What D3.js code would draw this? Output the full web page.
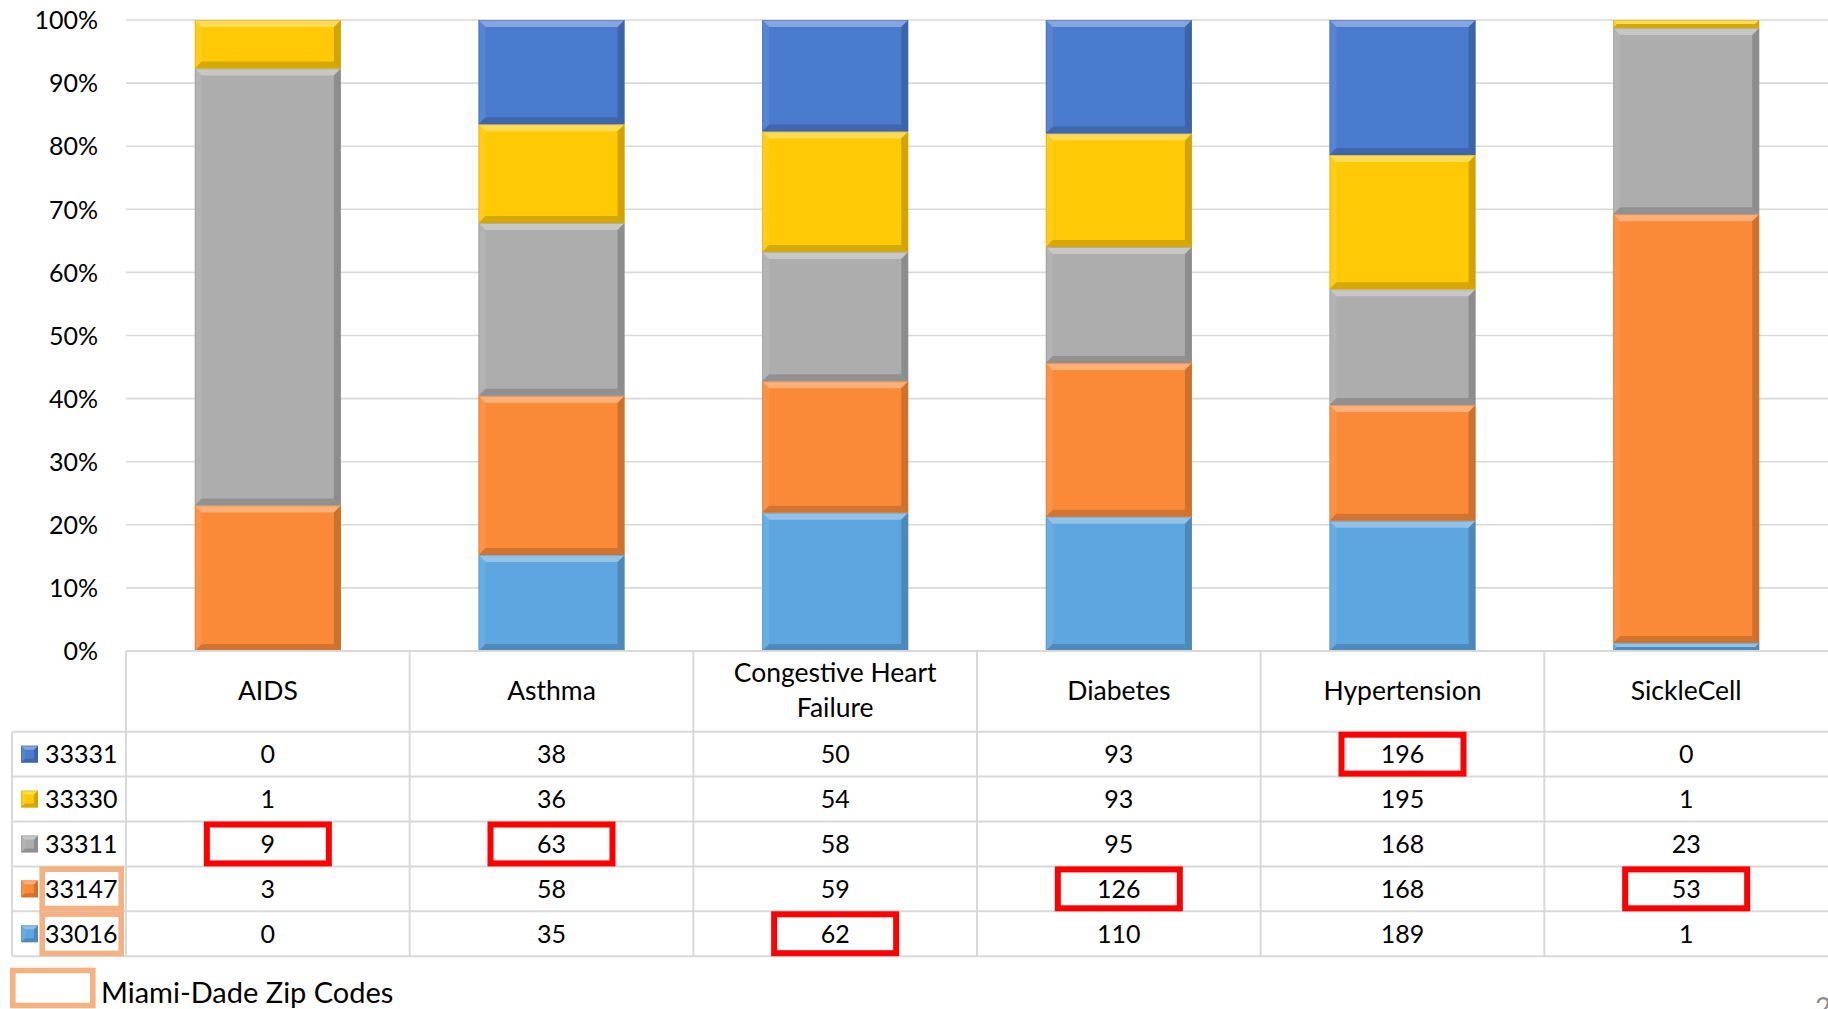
<!DOCTYPE html>
<html>
<head>
<meta charset="utf-8">
<script src="https://cdn.jsdelivr.net/npm/d3@7"></script>
<style>
  html, body { margin: 0; padding: 0; background: #ffffff; }
  svg { display: block; font-family: Lato, "Open Sans", sans-serif; }
</style>
</head>
<body>
<svg id="chart" width="1828" height="1009"></svg>
<script>
// ---------- data ----------
const categories = ["AIDS", "Asthma", "Congestive Heart Failure", "Diabetes", "Hypertension", "SickleCell"];
const categoryLabelLines = [["AIDS"], ["Asthma"], ["Congestive Heart", "Failure"], ["Diabetes"], ["Hypertension"], ["SickleCell"]];
const zipCodes = ["33331", "33330", "33311", "33147", "33016"];   // table order, top to bottom
const values33331 = [0, 38, 50, 93, 196, 0];
const values33330 = [1, 36, 54, 93, 195, 1];
const values33311 = [9, 63, 58, 95, 168, 23];
const values33147 = [3, 58, 59, 126, 168, 53];
const values33016 = [0, 35, 62, 110, 189, 1];
const zipColors = ["#4A7BCF", "#FFC906", "#ADADAD", "#FB8A38", "#5EA6E0"];
const yTickValues = [0, 0.1, 0.2, 0.3, 0.4, 0.5, 0.6, 0.7, 0.8, 0.9, 1.0];
const miamiDadeZips = ["33147", "33016"];
const highlightedCells = [
  ["AIDS", "33311"], ["Asthma", "33311"], ["Congestive Heart Failure", "33016"],
  ["Diabetes", "33147"], ["Hypertension", "33331"], ["SickleCell", "33147"]
];
const legendLabel = "Miami-Dade Zip Codes";
const pageNumber = "2";

// ---------- build table ----------
const seriesValues = { "33331": values33331, "33330": values33330, "33311": values33311, "33147": values33147, "33016": values33016 };
const rows = categories.map((c, i) => {
  const r = { category: c };
  zipCodes.forEach(z => r[z] = seriesValues[z][i]);
  return r;
});
const stackOrder = zipCodes.slice().reverse(); // 33016 at bottom
const color = d3.scaleOrdinal().domain(zipCodes).range(zipColors);

// ---------- layout ----------
const W = 1828, H = 1009;
const plotLeft = 126, plotRight = 1828, plotTop = 20, plotBottom = 651;
const tableLeft = 12;
const headerBottom = 731.7;
const rowH = 44.9;

const svg = d3.select("#chart");
svg.append("rect").attr("width", W).attr("height", H).attr("fill", "#fff");

const x = d3.scaleBand().domain(categories).range([plotLeft, plotRight])
  .paddingInner(0.485).paddingOuter(0.2425);
const y = d3.scaleLinear().domain([0, 1]).range([plotBottom, plotTop]);
const rowY = d3.scaleBand().domain(zipCodes).range([headerBottom, headerBottom + rowH * zipCodes.length]);

// gridlines
const gridColor = "#D9D9D9";
svg.append("g").selectAll("line").data(yTickValues.filter(t => t > 0)).join("line")
  .attr("x1", plotLeft).attr("x2", plotRight)
  .attr("y1", d => y(d)).attr("y2", d => y(d))
  .attr("stroke", gridColor).attr("stroke-width", 1.6);

// y axis labels
const yAxis = d3.axisLeft(y).tickValues(yTickValues).tickFormat(d3.format(".0%")).tickSize(0).tickPadding(0);
const yg = svg.append("g").attr("transform", `translate(98,0)`).call(yAxis);
yg.select(".domain").remove();
yg.selectAll("text").attr("font-size", 25).attr("fill", "#000").attr("font-family", "Lato, sans-serif").attr("dy", "0.35em");

// bevel helper
function bevel(g, x0, y0, x1, y1, fill, bmax) {
  const h = y1 - y0, w = x1 - x0;
  const b = Math.min(bmax, h / 2, w / 2);
  g.append("rect").attr("x", x0).attr("y", y0).attr("width", w).attr("height", h).attr("fill", fill);
  const poly = (pts, f, o) => g.append("polygon").attr("points", pts.map(p => p.join(",")).join(" ")).attr("fill", f).attr("fill-opacity", o);
  poly([[x0, y0], [x1, y0], [x1 - b, y0 + b], [x0 + b, y0 + b]], "#fff", 0.32);
  poly([[x0, y0], [x0 + b, y0 + b], [x0 + b, y1 - b], [x0, y1]], "#fff", 0.08);
  poly([[x1, y0], [x1 - b, y0 + b], [x1 - b, y1 - b], [x1, y1]], "#000", 0.18);
  poly([[x0, y1], [x1, y1], [x1 - b, y1 - b], [x0 + b, y1 - b]], "#000", 0.16);
  g.append("rect").attr("x", x0 + 0.5).attr("y", y0 + 0.5).attr("width", Math.max(0, w - 1)).attr("height", Math.max(0, h - 1))
    .attr("fill", "none").attr("stroke", d3.color(fill).darker(0.5)).attr("stroke-opacity", 0.45).attr("stroke-width", 1);
}

// stacked bars (100%)
const stack = d3.stack().keys(stackOrder).offset(d3.stackOffsetExpand);
const series = stack(rows);
const barsG = svg.append("g");
series.forEach(s => {
  s.forEach(seg => {
    const y0 = y(seg[1]), y1 = y(seg[0]);
    if (y1 - y0 < 0.01) return;
    const g = barsG.append("g");
    bevel(g, x(seg.data.category), y0, x(seg.data.category) + x.bandwidth(), y1, color(s.key), 7);
  });
});

// ---------- data table ----------
const tableG = svg.append("g");
const lineAttrs = sel => sel.attr("stroke", gridColor).attr("stroke-width", 2);
tableG.append("line").attr("x1", plotLeft).attr("x2", plotRight).attr("y1", plotBottom).attr("y2", plotBottom).call(lineAttrs);
const rowLines = [headerBottom].concat(zipCodes.map(z => rowY(z) + rowY.bandwidth()));
tableG.selectAll("line.row").data(rowLines).join("line").attr("class", "row")
  .attr("x1", tableLeft).attr("x2", plotRight).attr("y1", d => d).attr("y2", d => d).call(lineAttrs);
const tableBottom = rowLines[rowLines.length - 1];
const colEdges = categories.map(c => x(c) - x.step() * x.paddingInner() / 2);
tableG.selectAll("line.col").data(colEdges).join("line").attr("class", "col")
  .attr("x1", d => d).attr("x2", d => d).attr("y1", plotBottom).attr("y2", tableBottom).call(lineAttrs);
tableG.append("line").attr("x1", tableLeft).attr("x2", tableLeft).attr("y1", headerBottom).attr("y2", tableBottom).call(lineAttrs);

// headers
const cx = c => x(c) + x.bandwidth() / 2;
categories.forEach((c, i) => {
  const lines = categoryLabelLines[i];
  const midY = (plotBottom + headerBottom) / 2 - 1;
  const lh = 35;
  lines.forEach((ln, j) => {
    tableG.append("text").attr("x", cx(c)).attr("y", midY + (j - (lines.length - 1) / 2) * lh)
      .attr("dy", "0.35em").attr("text-anchor", "middle").attr("font-size", 26.5).attr("fill", "#000").text(ln);
  });
});

// rows
zipCodes.forEach(z => {
  const ry = rowY(z) + rowY.bandwidth() / 2;
  const sw = tableG.append("g");
  bevel(sw, 21, ry - 8.5, 38, ry + 8.5, color(z), 4);
  tableG.append("text").attr("x", 45).attr("y", ry).attr("dy", "0.36em").attr("font-size", 25).attr("fill", "#000").text(z);
  categories.forEach((c, i) => {
    tableG.append("text").attr("x", cx(c)).attr("y", ry).attr("dy", "0.36em").attr("text-anchor", "middle")
      .attr("font-size", 25).attr("fill", "#000").text(seriesValues[z][i]);
  });
});

// Miami-Dade highlight boxes on zip labels
const mdColor = "#F4B183";
miamiDadeZips.forEach(z => {
  tableG.append("rect").attr("x", 42.2).attr("y", rowY(z) + 2.8).attr("width", 79).attr("height", rowY.bandwidth() - 5.6)
    .attr("fill", "none").attr("stroke", mdColor).attr("stroke-width", 5.6);
});

// red highlight boxes
highlightedCells.forEach(([c, z]) => {
  const bw = 122, bh = rowY.bandwidth() - 6;
  tableG.append("rect").attr("x", cx(c) - bw / 2).attr("y", rowY(z) + 3).attr("width", bw).attr("height", bh)
    .attr("fill", "none").attr("stroke", "#FF0000").attr("stroke-width", 6);
});

// legend
svg.append("rect").attr("x", 12.8).attr("y", 970.5).attr("width", 80).attr("height", 35)
  .attr("fill", "none").attr("stroke", mdColor).attr("stroke-width", 5.6);
svg.append("text").attr("x", 101).attr("y", 1003).attr("font-size", 29).attr("fill", "#000").text(legendLabel);

// page number (cut off at edge, as in the source slide)
svg.append("text").attr("x", 1815).attr("y", 1018).attr("font-size", 28).attr("fill", "#8c8c8c").text(pageNumber);
</script>
</body>
</html>
